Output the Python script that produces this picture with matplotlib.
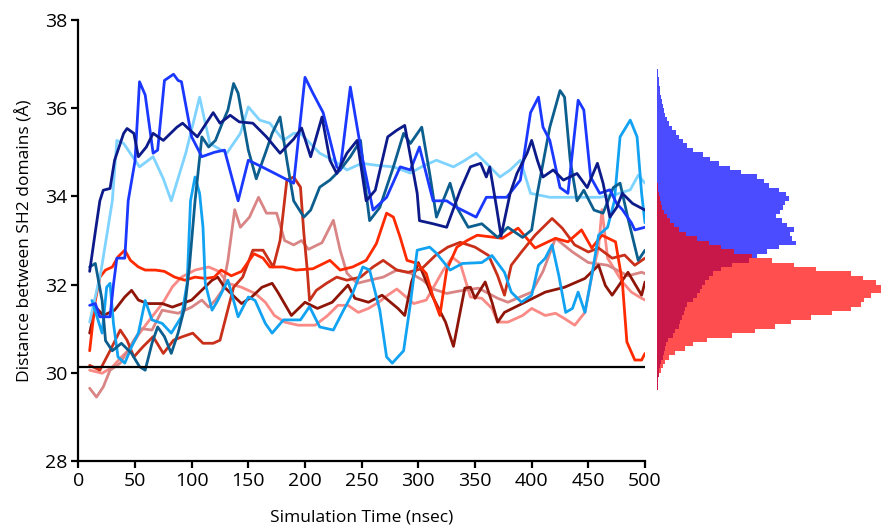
import numpy as np
import matplotlib
matplotlib.use("Agg")
import matplotlib.pyplot as plt

plt.rcParams['font.family'] = ['Open Sans', 'DejaVu Sans']

# ---------------- data ----------------
light_blue_t = [10, 20, 30, 34, 40, 54, 66, 75, 82, 95, 107, 116, 131, 143, 150, 160, 169, 181, 190, 196, 213, 225, 237, 250, 265, 278, 293, 305, 316, 331, 340, 351, 362, 372, 381, 390, 399, 416, 436, 460, 475, 487, 494, 500]
light_blue_y = [31.15, 32.3, 33.9, 35.27, 35.2, 34.67, 34.9, 34.4, 33.9, 35.0, 36.25, 35.2, 34.98, 35.43, 36.03, 35.73, 35.66, 35.27, 35.43, 35.43, 34.98, 34.82, 34.6, 34.75, 34.7, 34.67, 34.53, 34.7, 34.82, 34.67, 34.8, 34.98, 34.7, 34.44, 34.6, 34.82, 34.07, 33.98, 33.98, 33.98, 34.05, 34.15, 34.48, 34.3]

bright_blue_t = [10, 15, 19, 28, 31, 34, 41, 44, 50, 54, 59, 66, 70, 76, 84, 88, 91, 100, 109, 120, 129, 141, 150, 162, 175, 190, 200, 207, 216, 228, 231, 240, 246, 251, 260, 272, 284, 293, 301, 313, 325, 334, 351, 360, 378, 390, 399, 406, 410, 416, 425, 432, 441, 446, 452, 460, 469, 475, 480, 488, 491, 500]
bright_blue_y = [31.53, 31.57, 31.27, 31.27, 32.0, 32.6, 32.6, 33.9, 34.8, 36.6, 36.3, 34.98, 35.05, 36.63, 36.77, 36.63, 36.6, 35.35, 34.9, 35.0, 35.05, 33.9, 34.82, 34.67, 34.5, 34.3, 36.7, 36.34, 35.9, 34.67, 34.6, 36.48, 35.57, 34.82, 33.69, 33.98, 34.67, 34.6, 35.12, 33.9, 33.9, 33.75, 33.53, 33.98, 33.98, 34.37, 35.9, 36.25, 35.57, 35.27, 34.2, 34.07, 36.18, 35.96, 34.44, 34.07, 34.15, 33.84, 33.7, 33.4, 33.24, 33.3]

navy_t = [10, 15, 19, 22, 28, 32, 40, 43, 49, 53, 60, 66, 75, 87, 92, 105, 119, 125, 134, 142, 154, 166, 178, 190, 197, 205, 215, 222, 228, 237, 246, 254, 262, 273, 281, 288, 299, 301, 313, 325, 337, 346, 355, 360, 363, 369, 373, 381, 387, 396, 400, 405, 410, 419, 428, 440, 449, 458, 463, 469, 475, 480, 489, 500]
navy_y = [32.3, 33.2, 33.9, 34.14, 34.18, 34.82, 35.43, 35.54, 35.43, 34.9, 35.12, 35.43, 35.27, 35.57, 35.66, 35.35, 35.9, 35.66, 35.84, 35.69, 35.66, 35.35, 34.98, 35.3, 35.55, 34.9, 35.8, 34.82, 34.52, 34.98, 35.27, 33.9, 34.14, 35.35, 35.5, 35.61, 34.07, 33.45, 33.38, 33.3, 34.14, 34.67, 34.75, 34.44, 34.67, 33.75, 33.1, 34.07, 34.52, 34.98, 35.27, 34.82, 34.44, 34.6, 34.37, 34.52, 34.2, 34.75, 34.3, 33.53, 33.75, 34.07, 33.84, 33.69]

teal_t = [10, 15, 21, 24, 30, 38, 47, 54, 59, 65, 70, 76, 82, 88, 94, 98, 103, 109, 115, 121, 127, 132, 137, 141, 150, 157, 166, 171, 178, 184, 190, 199, 205, 213, 222, 231, 240, 249, 254, 257, 266, 278, 287, 293, 303, 310, 316, 328, 334, 344, 356, 370, 379, 392, 400, 405, 416, 425, 429, 434, 440, 446, 455, 463, 472, 478, 485, 494, 500]
teal_y = [32.4, 32.48, 31.64, 30.73, 30.5, 30.67, 30.44, 30.14, 30.06, 30.67, 31.04, 30.82, 30.44, 30.9, 31.5, 32.4, 33.9, 35.35, 35.12, 35.27, 35.66, 35.96, 36.56, 36.34, 35.05, 34.4, 35.05, 35.43, 35.8, 34.82, 33.9, 33.53, 33.69, 34.21, 34.37, 34.6, 34.9, 35.27, 34.07, 33.45, 33.75, 34.67, 35.43, 35.2, 35.57, 34.52, 33.53, 34.3, 33.75, 33.3, 33.38, 33.07, 33.3, 33.07, 33.24, 34.07, 35.57, 36.4, 36.25, 34.82, 33.9, 34.14, 33.69, 33.62, 34.2, 34.3, 33.5, 32.55, 32.78]

sky_t = [12, 21, 25, 28, 31, 35, 41, 47, 53, 59, 65, 74, 82, 91, 96, 99, 103, 107, 110, 112, 118, 123, 132, 141, 150, 156, 165, 171, 181, 196, 204, 213, 225, 234, 242, 251, 257, 266, 272, 277, 287, 293, 299, 310, 316, 328, 339, 356, 365, 376, 382, 391, 400, 406, 412, 418, 424, 430, 436, 441, 447, 453, 459, 467, 473, 478, 487, 493, 497, 500]
sky_y = [31.64, 30.9, 31.94, 32.03, 31.12, 30.36, 30.22, 30.59, 30.9, 31.64, 31.2, 31.12, 30.9, 31.27, 32.03, 33.9, 34.44, 34.07, 33.3, 32.03, 31.42, 31.64, 32.1, 31.27, 31.72, 31.64, 31.12, 30.9, 31.2, 31.2, 31.5, 31.04, 30.97, 31.42, 31.8, 32.4, 32.33, 31.42, 30.36, 30.22, 30.5, 31.57, 32.78, 32.85, 32.71, 32.33, 32.48, 32.5, 32.66, 32.28, 31.83, 31.6, 31.76, 32.44, 32.6, 32.9, 32.2, 31.37, 31.46, 31.83, 31.37, 32.2, 33.12, 33.3, 33.9, 35.35, 35.73, 35.35, 34.07, 33.4]

bright_red_t = [10, 15, 19, 24, 30, 35, 41, 46, 53, 59, 68, 76, 85, 94, 103, 112, 120, 126, 135, 144, 155, 163, 169, 181, 192, 207, 222, 231, 242, 254, 263, 272, 278, 284, 290, 299, 307, 313, 319, 325, 334, 343, 352, 374, 388, 403, 421, 432, 444, 453, 462, 474, 480, 484, 491, 497, 500]
bright_red_y = [30.5, 31.64, 32.17, 32.33, 32.4, 32.63, 32.78, 32.55, 32.4, 32.33, 32.33, 32.3, 32.17, 32.1, 32.17, 32.14, 32.17, 32.33, 32.2, 32.3, 32.7, 32.6, 32.4, 32.4, 32.33, 32.36, 32.55, 32.33, 32.4, 32.55, 32.93, 33.62, 33.53, 33.07, 32.55, 32.48, 32.25, 31.72, 31.3, 32.33, 32.85, 33.0, 33.12, 33.05, 33.28, 32.83, 33.05, 32.97, 33.24, 32.83, 33.12, 32.97, 32.06, 30.7, 30.29, 30.29, 30.44]

brick_t = [10, 19, 28, 37, 43, 49, 57, 66, 75, 84, 92, 101, 110, 119, 125, 131, 137, 145, 154, 163, 172, 178, 184, 190, 196, 199, 202, 204, 210, 219, 228, 237, 249, 260, 269, 281, 291, 303, 315, 326, 337, 350, 362, 370, 376, 382, 391, 403, 418, 427, 438, 450, 459, 471, 482, 491, 500]
brick_y = [30.17, 30.06, 30.5, 30.97, 30.74, 30.36, 30.59, 30.82, 30.44, 30.74, 30.82, 30.9, 30.67, 30.67, 30.74, 31.34, 31.94, 32.17, 32.78, 32.78, 32.4, 33.0, 34.37, 34.44, 34.21, 33.16, 32.33, 31.64, 31.87, 32.03, 32.17, 32.1, 32.17, 32.4, 32.55, 32.33, 32.28, 32.36, 32.66, 32.85, 32.96, 32.85, 32.66, 32.2, 31.76, 32.44, 32.74, 33.12, 33.5, 33.28, 32.9, 32.74, 32.83, 32.6, 32.67, 32.44, 32.6]

maroon_t = [10, 15, 22, 32, 41, 47, 53, 61, 74, 83, 100, 118, 123, 129, 144, 153, 162, 171, 176, 188, 200, 211, 224, 238, 244, 256, 268, 282, 288, 294, 300, 312, 324, 331, 341, 346, 350, 359, 365, 370, 376, 394, 412, 429, 447, 459, 465, 471, 485, 497, 500]
maroon_y = [30.9, 31.5, 31.3, 31.42, 31.72, 31.87, 31.65, 31.57, 31.57, 31.49, 31.65, 32.1, 32.17, 31.94, 31.57, 31.72, 31.94, 32.03, 31.83, 31.3, 31.6, 31.46, 31.6, 31.99, 31.69, 31.6, 31.76, 31.46, 31.3, 32.06, 32.5, 31.76, 31.15, 30.6, 31.92, 31.94, 31.69, 32.06, 31.6, 31.15, 31.37, 31.6, 31.83, 31.94, 32.14, 32.44, 31.98, 31.76, 32.28, 31.76, 32.06]

salmon_t = [10, 21, 30, 38, 44, 54, 65, 75, 83, 91, 103, 115, 124, 132, 144, 156, 165, 173, 182, 194, 209, 220, 229, 238, 247, 256, 265, 273, 281, 296, 307, 322, 330, 337, 346, 356, 365, 370, 379, 392, 400, 412, 421, 429, 438, 447, 453, 459, 462, 467, 480, 488, 497, 500]
salmon_y = [30.06, 29.99, 30.13, 30.36, 30.5, 30.9, 31.27, 31.6, 31.95, 32.17, 32.33, 32.4, 32.3, 32.03, 31.94, 31.8, 31.6, 31.3, 31.15, 31.08, 31.08, 31.3, 31.53, 31.53, 31.37, 31.46, 31.6, 31.76, 31.9, 31.57, 31.65, 32.33, 32.62, 32.48, 31.72, 31.69, 31.46, 31.15, 31.15, 31.3, 31.46, 31.3, 31.35, 31.23, 31.08, 31.37, 32.2, 32.83, 33.7, 32.6, 32.06, 31.83, 31.69, 31.65]

rose_t = [10, 16, 22, 28, 37, 49, 56, 65, 74, 88, 100, 109, 115, 121, 127, 132, 138, 143, 151, 159, 166, 175, 182, 190, 197, 203, 215, 225, 231, 237, 246, 257, 269, 281, 293, 304, 313, 325, 335, 353, 370, 379, 400, 410, 421, 436, 450, 467, 485, 497, 500]
rose_y = [29.65, 29.45, 29.68, 30.06, 30.22, 30.74, 31.0, 30.97, 31.42, 31.35, 31.49, 31.65, 31.49, 31.65, 31.87, 32.55, 33.7, 33.3, 33.53, 33.98, 33.62, 33.62, 33.0, 32.9, 33.0, 32.8, 32.95, 33.46, 32.78, 32.26, 32.03, 32.1, 32.17, 32.33, 32.26, 32.1, 31.9, 31.8, 31.85, 31.92, 31.69, 31.6, 31.83, 32.3, 33.05, 32.74, 32.5, 32.44, 32.2, 32.28, 32.25]

reference_distance = 30.13

# Histogram (distance bin centres, Å) and bar lengths for blue and red sets
hist_centers = [29.55, 29.65, 29.75, 29.85, 29.95, 30.05, 30.15, 30.25, 30.35, 30.45,
                30.55, 30.65, 30.75, 30.85, 30.95, 31.05, 31.15, 31.25, 31.35, 31.45,
                31.55, 31.65, 31.75, 31.85, 31.95, 32.05, 32.15, 32.25, 32.35, 32.45,
                32.55, 32.65, 32.75, 32.85, 32.95, 33.05, 33.15, 33.25, 33.35, 33.45,
                33.55, 33.65, 33.75, 33.85, 33.95, 34.05, 34.15, 34.25, 34.35, 34.45,
                34.55, 34.65, 34.75, 34.85, 34.95, 35.05, 35.15, 35.25, 35.35, 35.45,
                35.55, 35.65, 35.75, 35.85, 35.95, 36.05, 36.15, 36.25, 36.35, 36.45,
                36.55, 36.65, 36.75, 36.85]
hist_blue = [0, 1, 1, 1, 2, 2, 3, 4, 6, 7,
             8, 9, 11, 16, 18, 22, 23, 25, 27, 28,
             30, 36, 40, 43, 45, 48, 52, 56, 64, 75,
             92, 100, 110, 123, 140, 136, 134, 138, 131, 126,
             119, 124, 127, 129, 133, 130, 122, 112, 107, 100,
             84, 73, 62, 53, 46, 36, 30, 26, 22, 19,
             15, 12, 10, 8, 7, 6, 5, 4, 3, 3,
             2, 2, 1, 1]
hist_red = [0, 1, 1, 1, 2, 4, 6, 8, 12, 18,
            28, 36, 50, 75, 98, 118, 135, 155, 176, 195,
            205, 208, 215, 225, 225, 220, 207, 195, 160, 138,
            115, 95, 77, 64, 52, 40, 29, 22, 17, 13,
            10, 7, 5, 4, 3, 2, 1, 1, 0, 0,
            0, 0, 0, 0, 0, 0, 0, 0, 0, 0,
            0, 0, 0, 0, 0, 0, 0, 0, 0, 0,
            0, 0, 0, 0]

red_series = [
    (salmon_t, salmon_y, '#F98A86'),
    (rose_t, rose_y, '#D98585'),
    (maroon_t, maroon_y, '#8E1508'),
    (brick_t, brick_y, '#C9301A'),
    (bright_red_t, bright_red_y, '#FF2A00'),
]
blue_series = [
    (light_blue_t, light_blue_y, '#7FD3FF'),
    (sky_t, sky_y, '#12A2F2'),
    (teal_t, teal_y, '#0B5E8E'),
    (bright_blue_t, bright_blue_y, '#1A38FF'),
    (navy_t, navy_y, '#0D1A8A'),
]

# ---------------- figure ----------------
fig = plt.figure(figsize=(8.82, 5.29), dpi=100)
ax = fig.add_axes([0.0888, 0.1285, 0.6425, 0.8337])
axh = fig.add_axes([0.745, 0.1285, 0.255, 0.8337], sharey=ax)

for t, y, c in red_series + blue_series:
    ax.plot(t, y, color=c, lw=2.0, solid_joinstyle='round', solid_capstyle='round')

ax.plot([0, 500], [reference_distance, reference_distance], color='black', lw=1.6)

ax.set_xlim(0, 500)
ax.set_ylim(28, 38)
ax.set_xticks(np.arange(0, 501, 50))
ax.set_yticks(np.arange(28, 39, 2))
for s in ['top', 'right']:
    ax.spines[s].set_visible(False)
for s in ['left', 'bottom']:
    ax.spines[s].set_linewidth(1.6)
ax.tick_params(axis='both', direction='out', length=5, width=1.6, labelsize=14, pad=3)
ax.set_xlabel('Simulation Time (nsec)', fontsize=12.5, labelpad=14)
ax.set_ylabel('Distance between SH2 domains (Å)', fontsize=12.5, labelpad=8)

# histogram panel
centers = np.array(hist_centers)
hb = np.array(hist_blue)
hr = np.array(hist_red)
h = 0.1
axh.barh(centers, hb, height=h, color='#4B4BFF', linewidth=0)
axh.barh(centers, hr, height=h, color='#FF4F4F', linewidth=0)
axh.barh(centers, np.minimum(hb, hr), height=h, color='#C8184A', linewidth=0)
axh.set_xlim(0, 226)
axh.axis('off')

fig.savefig('out.png', dpi=100)
